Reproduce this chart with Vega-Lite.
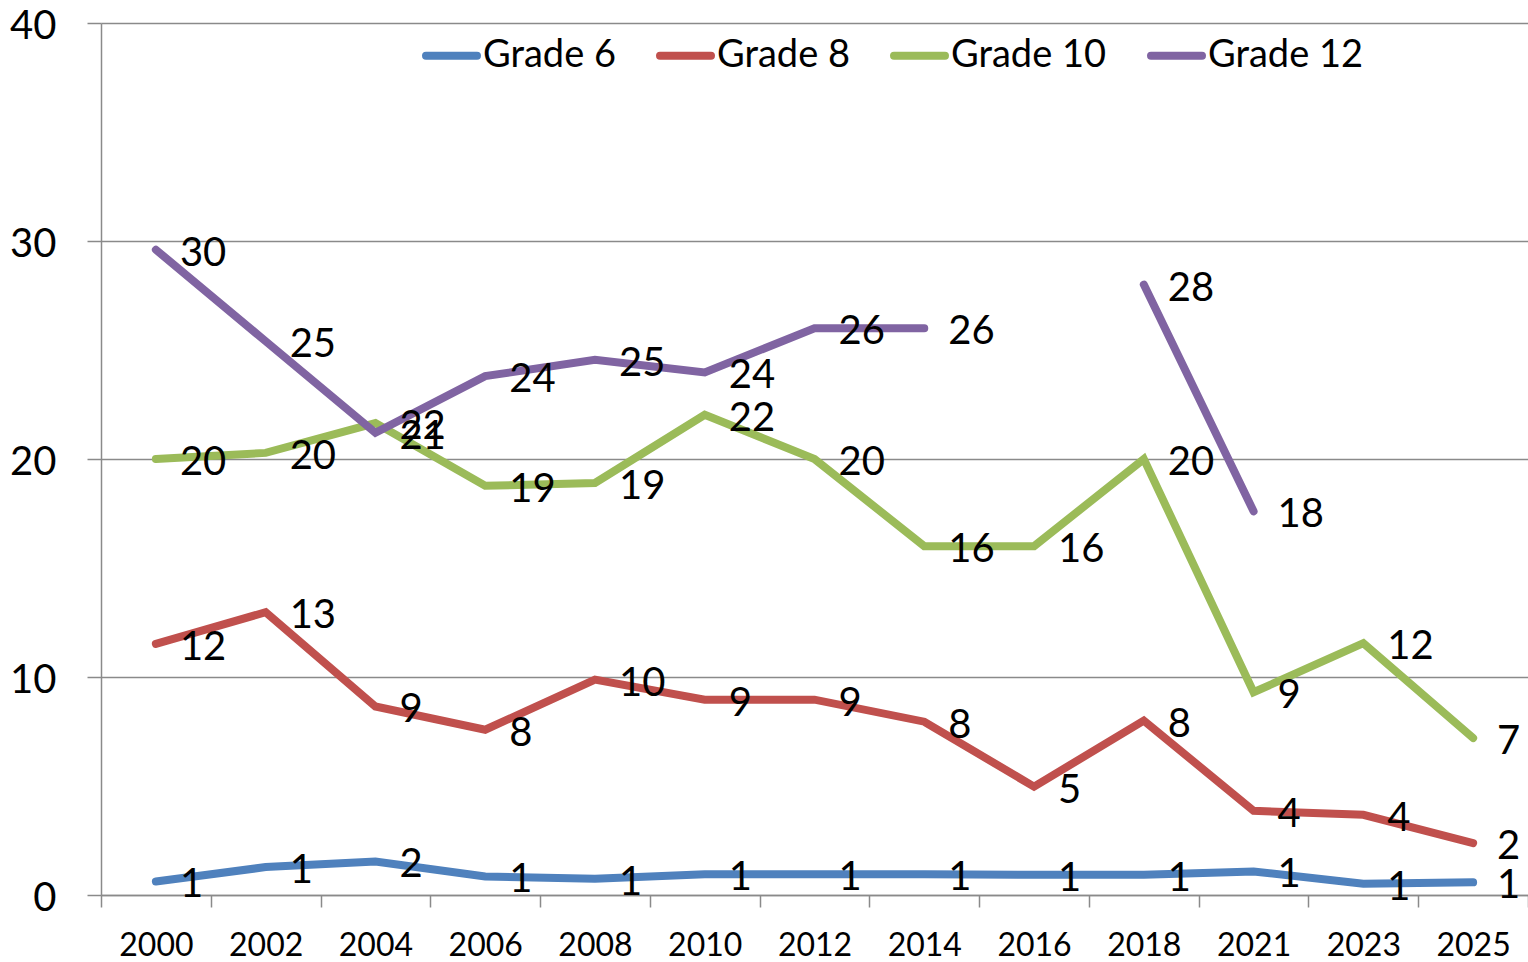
{
  "$schema": "https://vega.github.io/schema/vega-lite/v6.json",
  "width": 1427,
  "height": 872,
  "autosize": {"type": "none"},
  "padding": {"left": 101, "top": 23, "right": 0, "bottom": 67},
  "background": "white",
  "config": {
    "view": {"stroke": null},
    "font": "Lato",
    "axis": {"labelFont": "Lato", "labelColor": "#000000", "domainColor": "#8a8a8a", "tickColor": "#8a8a8a", "gridColor": "#8a8a8a", "domainWidth": 1.5, "tickWidth": 1.5, "gridWidth": 1.5}
  },
  "data": {"values": [
    {"year": "2000", "grade": "Grade 6", "value": 0.62},
    {"year": "2002", "grade": "Grade 6", "value": 1.28},
    {"year": "2004", "grade": "Grade 6", "value": 1.54},
    {"year": "2006", "grade": "Grade 6", "value": 0.85},
    {"year": "2008", "grade": "Grade 6", "value": 0.75},
    {"year": "2010", "grade": "Grade 6", "value": 0.95},
    {"year": "2012", "grade": "Grade 6", "value": 0.95},
    {"year": "2014", "grade": "Grade 6", "value": 0.95},
    {"year": "2016", "grade": "Grade 6", "value": 0.93},
    {"year": "2018", "grade": "Grade 6", "value": 0.93},
    {"year": "2021", "grade": "Grade 6", "value": 1.08},
    {"year": "2023", "grade": "Grade 6", "value": 0.52},
    {"year": "2025", "grade": "Grade 6", "value": 0.58},
    {"year": "2000", "grade": "Grade 8", "value": 11.52},
    {"year": "2002", "grade": "Grade 8", "value": 12.97},
    {"year": "2004", "grade": "Grade 8", "value": 8.65},
    {"year": "2006", "grade": "Grade 8", "value": 7.58},
    {"year": "2008", "grade": "Grade 8", "value": 9.88},
    {"year": "2010", "grade": "Grade 8", "value": 8.96},
    {"year": "2012", "grade": "Grade 8", "value": 8.96},
    {"year": "2014", "grade": "Grade 8", "value": 7.95},
    {"year": "2016", "grade": "Grade 8", "value": 4.97},
    {"year": "2018", "grade": "Grade 8", "value": 8.0},
    {"year": "2021", "grade": "Grade 8", "value": 3.86},
    {"year": "2023", "grade": "Grade 8", "value": 3.68},
    {"year": "2025", "grade": "Grade 8", "value": 2.38},
    {"year": "2000", "grade": "Grade 10", "value": 20.0},
    {"year": "2002", "grade": "Grade 10", "value": 20.28},
    {"year": "2004", "grade": "Grade 10", "value": 21.65},
    {"year": "2006", "grade": "Grade 10", "value": 18.77},
    {"year": "2008", "grade": "Grade 10", "value": 18.9},
    {"year": "2010", "grade": "Grade 10", "value": 22.03},
    {"year": "2012", "grade": "Grade 10", "value": 20.0},
    {"year": "2014", "grade": "Grade 10", "value": 16.0},
    {"year": "2016", "grade": "Grade 10", "value": 16.0},
    {"year": "2018", "grade": "Grade 10", "value": 20.0},
    {"year": "2021", "grade": "Grade 10", "value": 9.3},
    {"year": "2023", "grade": "Grade 10", "value": 11.55},
    {"year": "2025", "grade": "Grade 10", "value": 7.2},
    {"year": "2000", "grade": "Grade 12", "value": 29.6},
    {"year": "2002", "grade": "Grade 12", "value": 25.4},
    {"year": "2004", "grade": "Grade 12", "value": 21.2},
    {"year": "2006", "grade": "Grade 12", "value": 23.8},
    {"year": "2008", "grade": "Grade 12", "value": 24.55},
    {"year": "2010", "grade": "Grade 12", "value": 23.97},
    {"year": "2012", "grade": "Grade 12", "value": 26.0},
    {"year": "2014", "grade": "Grade 12", "value": 26.0},
    {"year": "2016", "grade": "Grade 12", "value": null},
    {"year": "2018", "grade": "Grade 12", "value": 28.0},
    {"year": "2021", "grade": "Grade 12", "value": 17.6},
    {"year": "2023", "grade": "Grade 12", "value": null},
    {"year": "2025", "grade": "Grade 12", "value": null}
  ]},
  "encoding": {
    "x": {
      "field": "year", "type": "ordinal", "sort": null,
      "scale": {"type": "band", "paddingInner": 0, "paddingOuter": 0},
      "axis": {"title": null, "labelAngle": 0, "labelFontSize": 32, "tickSize": 12, "tickBand": "extent", "labelPadding": 38, "labelBaseline": "middle", "grid": false}
    },
    "y": {
      "field": "value", "type": "quantitative",
      "scale": {"domain": [0, 40], "nice": false, "zero": true},
      "axis": {"title": null, "values": [0, 10, 20, 30, 40], "labelFontSize": 40, "tickSize": 14, "labelPadding": 31, "labelOffset": 3, "grid": true}
    }
  },
  "layer": [
    {
      "mark": {"type": "line", "strokeWidth": 8, "strokeCap": "round", "strokeJoin": "miter"},
      "encoding": {
        "color": {
          "field": "grade", "type": "nominal",
          "scale": {"domain": ["Grade 6", "Grade 8", "Grade 10", "Grade 12"], "range": ["#4F81BD", "#C0504D", "#9BBB59", "#8064A2"]},
          "legend": {
            "title": null, "orient": "none", "direction": "horizontal", "legendX": 321, "legendY": 3,
            "symbolType": "stroke", "symbolSize": 2601, "symbolStrokeWidth": 8,
            "labelFont": "Lato", "labelFontSize": 38, "labelColor": "#000000", "labelOffset": 2,
            "columnPadding": 28, "padding": 0, "labelLimit": 400,
            "encode": {"symbols": {"update": {"strokeCap": {"value": "round"}}}}
          }
        }
      }
    },
    {
      "transform": [{"filter": "datum.value != null"}],
      "mark": {"type": "text", "align": "left", "baseline": "middle", "dx": 24, "dy": 4, "fontSize": 40, "font": "Lato", "color": "#000000"},
      "encoding": {
        "text": {"field": "value", "type": "quantitative", "format": ".0f"}
      }
    }
  ]
}
